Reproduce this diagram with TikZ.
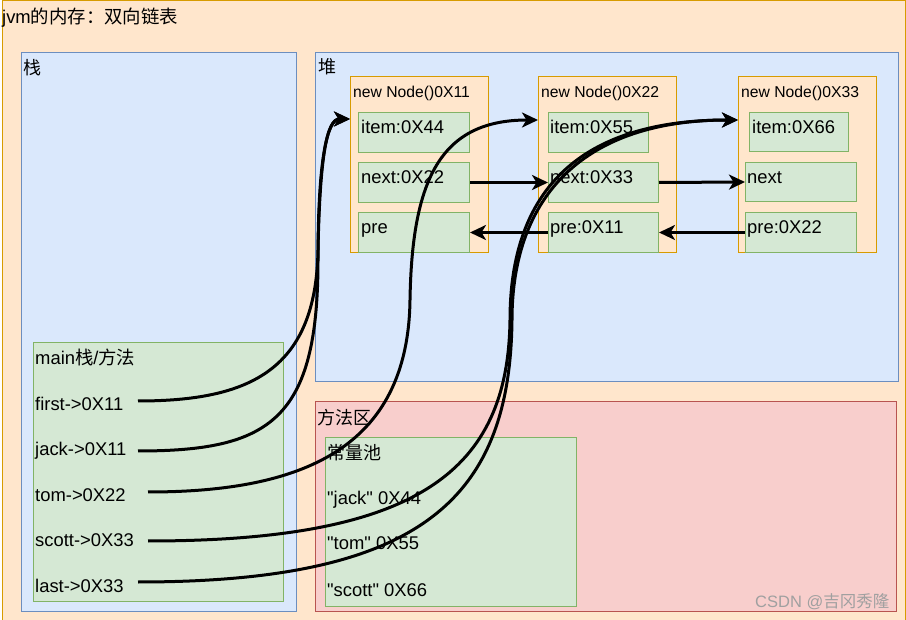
\documentclass[tikz,border=0pt]{standalone}
\usepackage{fontspec}
\setmainfont{Liberation Sans}
\newfontfamily\qfont{Liberation Sans}
\newfontfamily\cjk{Noto Sans CJK SC}
\usetikzlibrary{arrows.meta,calc}
\definecolor{orfill}{HTML}{FFE6CC}
\definecolor{orline}{HTML}{D79B00}
\definecolor{blfill}{HTML}{DAE8FC}
\definecolor{blline}{HTML}{6C8EBF}
\definecolor{grfill}{HTML}{D5E8D4}
\definecolor{grline}{HTML}{82B366}
\definecolor{pkfill}{HTML}{F8CECC}
\definecolor{pkline}{HTML}{B85450}
\definecolor{wmark}{HTML}{A0A0A0}
\begin{document}
\begin{tikzpicture}[x=1pt,y=-1pt,
  area/.style={draw, rectangle, anchor=north west, inner sep=0pt, line width=1pt},
  orbox/.style={area, fill=orfill, draw=orline},
  blbox/.style={area, fill=blfill, draw=blline},
  grbox/.style={area, fill=grfill, draw=grline},
  pkbox/.style={area, fill=pkfill, draw=pkline},
  lbl/.style={anchor=base west, inner sep=0pt, font=\fontsize{18.4}{20}\selectfont},
  cjklbl/.style={anchor=west, inner sep=0pt, font=\fontsize{18}{20}\selectfont\cjk},
  small/.style={anchor=base west, inner sep=0pt, font=\fontsize{15.7}{18}\selectfont},
  conn/.style={line width=3pt, -{Stealth[length=16pt,width=15pt,inset=4.5pt]}}
]
\useasboundingbox (0,0) rectangle (906,620);
\clip (0,0) rectangle (906,620);
% outer frame
\node[orbox, minimum width=903pt, minimum height=640pt] (outer) at (1.5,0.5) {};
\node[lbl] (title) at (2,24) {jvm{\cjk 的内存：双向链表}};
% stack
\node[blbox, minimum width=275pt, minimum height=559pt] (stack) at (21,52) {};
\node[cjklbl] (stacklbl) at (23,68) {栈};
\node[grbox, minimum width=250pt, minimum height=259pt] (main) at (33,342) {};
\node[lbl] (mainlbl) at (35,365) {main{\cjk 栈}/{\cjk 方法}};
\node[lbl] (vfirst) at (35,411) {first->0X11};
\node[lbl] (vjack) at (35,456) {jack->0X11};
\node[lbl] (vtom) at (35,502) {tom->0X22};
\node[lbl] (vscott) at (35,547) {scott->0X33};
\node[lbl] (vlast) at (35,592) {last->0X33};
% heap
\node[blbox, minimum width=583pt, minimum height=329pt] (heap) at (315,52) {};
\node[cjklbl] (heaplbl) at (318,67) {堆};
\node[orbox, minimum width=138pt, minimum height=176pt] (n1) at (350,76) {};
\node[orbox, minimum width=138pt, minimum height=176pt] (n2) at (538,76) {};
\node[orbox, minimum width=138pt, minimum height=176pt] (n3) at (738,76) {};
\node[small] (n1t) at (353,98) {new Node()0X11};
\node[small] (n2t) at (541,98) {new Node()0X22};
\node[small] (n3t) at (741,98) {new Node()0X33};
\node[grbox, minimum width=111pt, minimum height=40pt] (n1item) at (358,112) {};
\node[grbox, minimum width=111pt, minimum height=40pt] (n1next) at (358,162) {};
\node[grbox, minimum width=111pt, minimum height=40pt] (n1pre) at (358,212) {};
\node[grbox, minimum width=100pt, minimum height=40pt] (n2item) at (548,112) {};
\node[grbox, minimum width=110pt, minimum height=40pt] (n2next) at (548,162) {};
\node[grbox, minimum width=110pt, minimum height=40pt] (n2pre) at (548,212) {};
\node[grbox, minimum width=99pt, minimum height=39pt] (n3item) at (749,112) {};
\node[grbox, minimum width=111pt, minimum height=39pt] (n3next) at (745,162) {};
\node[grbox, minimum width=111pt, minimum height=40pt] (n3pre) at (745,212) {};
\node[lbl] at (361,134) {item:0X44};
\node[lbl] at (361,184) {next:0X22};
\node[lbl] at (361,234) {pre};
\node[lbl] at (550,134) {item:0X55};
\node[lbl] at (550,184) {next:0X33};
\node[lbl] at (550,234) {pre:0X11};
\node[lbl] at (752,134) {item:0X66};
\node[lbl] at (747,184) {next};
\node[lbl] at (747,234) {pre:0X22};
% method area
\node[pkbox, minimum width=581pt, minimum height=210pt] (method) at (315,401) {};
\node[cjklbl] (methodlbl) at (317,418) {方法区};
\node[grbox, minimum width=251pt, minimum height=169pt] (pool) at (325,437) {};
\node[cjklbl] (poollbl) at (327,453) {常量池};
\node[lbl] (cjack) at (327,505) {\qfont "jack" 0X44};
\node[lbl] (ctom) at (327,550) {\qfont "tom" 0X55};
\node[lbl] (cscott) at (327,596) {\qfont "scott" 0X66};
\node[anchor=base west, inner sep=0pt, text=wmark, font=\fontsize{16.5}{18}\selectfont] (wm) at (755,607) {CSDN @{\cjk 吉冈秀隆}};
% connectors
\coordinate (s1) at (138,401);
\coordinate (s2) at (138,451);
\coordinate (s3) at (148,492);
\coordinate (s4) at (148,541);
\coordinate (s5) at (138,582);
\coordinate (e1) at ($(n1.north west)+(0,43)$);
\coordinate (e2) at ($(n2.north west)+(0,44)$);
\coordinate (e3) at ($(n3.north west)+(0,44)$);
\draw[conn] (n1next.east) -- (n2next.west);
\draw[conn] (n2next.east) -- (n3next.west);
\draw[conn] (n2pre.west) -- (n1pre.east);
\draw[conn] (n3pre.west) -- (n2pre.east);
\draw[conn] (s1) .. controls (250,401) and (316,370) .. (318,250) .. controls (320,155) and (327,119) .. (e1);
\draw[conn] (s2) .. controls (270,451) and (318,420) .. (318,260) .. controls (318,160) and (327,119) .. (e1);
\draw[conn] (s3) .. controls (300,492) and (408,450) .. (410,300) .. controls (412,180) and (440,120) .. (e2);
\draw[conn] (s4) .. controls (420,541) and (508,470) .. (510,320) .. controls (510,190) and (580,120) .. (e3);
\draw[conn] (s5) .. controls (420,582) and (510,500) .. (512,320) .. controls (512,195) and (585,120) .. (e3);
\end{tikzpicture}
\end{document}
